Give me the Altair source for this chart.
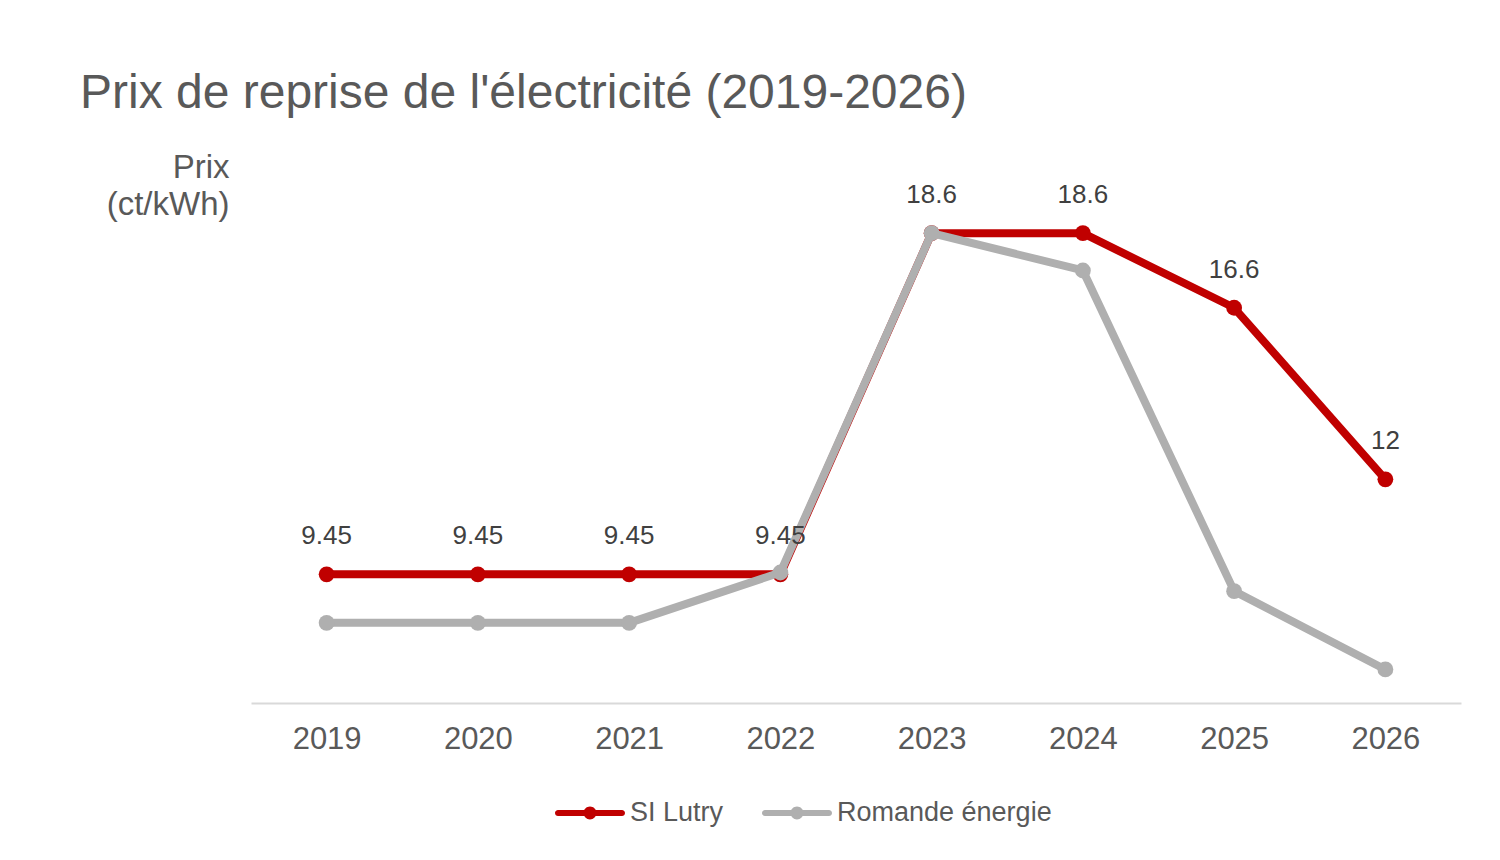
import altair as alt
import pandas as pd

years = ["2019", "2020", "2021", "2022", "2023", "2024", "2025", "2026"]
lutry = [9.45, 9.45, 9.45, 9.45, 18.6, 18.6, 16.6, 12]
romande = [8.15, 8.15, 8.15, 9.5, 18.6, 17.6, 9.0, 6.9]
series = ["SI Lutry", "Romande énergie"]
colors = ["#C00000", "#AFAFAF"]

rows = []
for s, vals in zip(series, [lutry, romande]):
    for y, v in zip(years, vals):
        rows.append({"year": y, "price": v, "series": s, "label": f"{v:g}"})
df = pd.DataFrame(rows)

FONT = "Liberation Sans"
TXT = "#595959"

x_enc = alt.X("year:N", scale=alt.Scale(type="point", padding=0.5),
              axis=alt.Axis(title=None, labelAngle=0, ticks=False, grid=False,
                            domainColor="#D9D9D9", domainWidth=2,
                            labelFontSize=31, labelColor=TXT, labelFont=FONT,
                            labelPadding=21))
y_enc = alt.Y("price:Q", scale=alt.Scale(domain=[6, 20], zero=False, nice=False),
              axis=alt.Axis(title=["Prix", "(ct/kWh)"], labels=False, ticks=False,
                            domain=False, grid=False, titleAngle=0, titleAlign="right",
                            titleBaseline="alphabetic", titleX=-22, titleY=-4,
                            titleFontSize=33, titleFont=FONT, titleColor=TXT,
                            titleFontWeight="normal", titleLineHeight=37))

sym = ("M-0.914,-0.086 L0.914,-0.086 A0.086,0.086 0 0 1 0.914,0.086 "
       "L-0.914,0.086 A0.086,0.086 0 0 1 -0.914,-0.086 Z "
       "M0.185,0 A0.185,0.185 0 1 1 -0.185,0 A0.185,0.185 0 1 1 0.185,0 Z")

color_scale = alt.Scale(domain=series, range=colors)
color_leg = alt.Color("series:N", scale=color_scale, sort=series,
                      legend=alt.Legend(title=None, orient="none", direction="horizontal",
                                        legendX=304, legendY=597, symbolType=sym,
                                        symbolSize=4900, symbolStrokeWidth=0,
                                        symbolOpacity=1, labelFontSize=27,
                                        labelFont=FONT, labelColor=TXT, labelOffset=5,
                                        labelLimit=500, columnPadding=38, padding=0))

base = alt.Chart(df)
layers = []
for s, c in zip(series, colors):
    b = base.transform_filter(alt.datum.series == s)
    layers.append(b.mark_line(strokeWidth=8, strokeCap="round", strokeJoin="round", color=c)
                  .encode(x=x_enc, y=y_enc))
    layers.append(b.mark_point(filled=True, size=250, opacity=1)
                  .encode(x=x_enc, y=y_enc, color=color_leg))

labels = base.transform_filter(alt.datum.series == "SI Lutry").mark_text(
    fontSize=26, font=FONT, color="#404040", dy=-30, baseline="alphabetic", align="center"
).encode(x=x_enc, y=y_enc, text="label:N")
layers.append(labels)

chart = alt.layer(*layers).properties(
    width=1210, height=522,
    title=alt.TitleParams("Prix de reprise de l'électricité (2019-2026)", anchor="start",
                          frame="group", dx=-171, offset=33, fontSize=48, font=FONT,
                          color=TXT, fontWeight="normal"),
    autosize=alt.AutoSizeParams(type="none"),
    padding={"left": 243, "top": 173, "right": 20, "bottom": 130},
).configure(background="white").configure_view(strokeWidth=0, stroke="transparent")

chart.save("out.html", embed_options={"renderer": "svg", "actions": False})
